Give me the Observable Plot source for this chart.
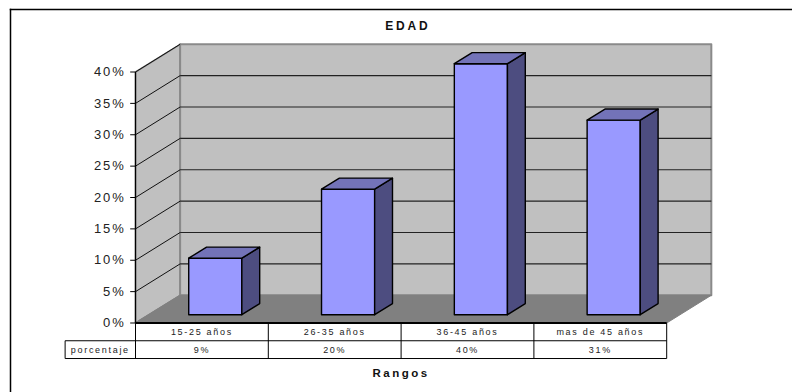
<!DOCTYPE html>
<html>
<head>
<meta charset="utf-8">
<script src="https://cdn.jsdelivr.net/npm/d3@7"></script>
<script src="https://cdn.jsdelivr.net/npm/@observablehq/plot@0.6"></script>
<style>
  html, body { margin: 0; padding: 0; background: #fff; }
  svg { display: block; }
</style>
</head>
<body>
<script>
const title = "EDAD";
const xTitle = "Rangos";
const rowLabel = "porcentaje";
const categories = ["15-25 años", "26-35 años", "36-45 años", "mas de 45 años"];
const values = [9, 20, 40, 31];
const valueLabels = ["9%", "20%", "40%", "31%"];
const yTicks = [0, 5, 10, 15, 20, 25, 30, 35, 40];

// Oblique depth of the box: a full unit of depth shifts right and up, in data units.
const depthX = 0.336;
const depthY = 4.42;
const barWidth = 0.4;
const barZ0 = 0.3;
const barZ1 = 0.7;
const nCat = categories.length;
const yMax = 40;

const project = (c, v, z) => ({x: c + z * depthX, y: v + z * depthY});
const poly = (pts) => pts.map(([c, v, z]) => project(c, v, z));

const wallBack = poly([[0, 0, 1], [nCat, 0, 1], [nCat, yMax, 1], [0, yMax, 1]]);
const wallSide = poly([[0, 0, 0], [0, 0, 1], [0, yMax, 1], [0, yMax, 0]]);
const floor = poly([[0, 0, 0], [nCat, 0, 0], [nCat, 0, 1], [0, 0, 1]]);

const face = (pts, fill, stroke, strokeWidth) =>
  Plot.line(pts, {x: "x", y: "y", fill, stroke, strokeWidth, curve: "linear-closed"});

const barMarks = values.flatMap((v, i) => {
  const a = i + 0.5 - barWidth / 2, b = i + 0.5 + barWidth / 2;
  return [
    face(poly([[a, 0, barZ0], [b, 0, barZ0], [b, v, barZ0], [a, v, barZ0]]), "#9999ff", "#000", 1.4),
    face(poly([[b, 0, barZ0], [b, 0, barZ1], [b, v, barZ1], [b, v, barZ0]]), "#4d4d80", "#000", 1.4),
    face(poly([[a, v, barZ0], [b, v, barZ0], [b, v, barZ1], [a, v, barZ1]]), "#7373b8", "#000", 1.4)
  ];
});

// Rows of the data table below the floor, expressed in value units under zero.
const rowH = 2.83;
const labelLeft = -0.53;
const tableText = {fontFamily: "Liberation Sans, Arial, sans-serif", fontSize: 9, fill: "#222"};

const chart = Plot.plot({
  width: 792,
  height: 392,
  marginLeft: 10,
  marginTop: 9,
  marginRight: 0,
  marginBottom: 0,
  x: {domain: [0, nCat], range: [135, 666.2], axis: null},
  y: {domain: [0, yMax], range: [322.5, 71.5], axis: null},
  style: {background: "#fff"},
  marks: [
    // the chart border only shows along the top and left edges
    Plot.frame({anchor: "top", stroke: "#000", strokeWidth: 1.5}),
    Plot.frame({anchor: "left", stroke: "#000", strokeWidth: 1.5}),

    face(wallSide, "#c0c0c0", "#808080", 1.5),
    face(wallBack, "#c0c0c0", "#8a8a8a", 2),
    face(floor, "#808080", "#808080", 1),

    // gridlines run along the side wall and across the back wall
    Plot.link(yTicks.slice(1), {
      x1: () => 0, y1: (d) => d,
      x2: () => depthX, y2: (d) => d + depthY,
      stroke: "#111", strokeWidth: 1
    }),
    Plot.link(yTicks.slice(1, -1), {
      x1: () => depthX, y1: (d) => d + depthY,
      x2: () => nCat + depthX, y2: (d) => d + depthY,
      stroke: "#222", strokeWidth: 1.1
    }),

    ...barMarks,

    // value axis with outward ticks
    Plot.link([0], {x1: () => 0, x2: () => 0, y1: () => 0, y2: () => yMax, stroke: "#000", strokeWidth: 1.3}),
    Plot.link(yTicks, {x1: () => -0.04, x2: () => 0, y1: (d) => d, y2: (d) => d, stroke: "#000", strokeWidth: 1}),
    Plot.text(yTicks, {
      x: () => 0, y: (d) => d, dx: -10, text: (d) => `${d}%`, textAnchor: "end",
      fontFamily: "Liberation Sans, Arial, sans-serif", fontSize: 13, fill: "#222"
    }),

    // data table
    Plot.link([0], {x1: () => 0, x2: () => nCat, y1: () => 0, y2: () => 0, stroke: "#000", strokeWidth: 2}),
    Plot.link([1, 2], {x1: () => labelLeft, x2: () => nCat, y1: (d) => -d * rowH, y2: (d) => -d * rowH, stroke: "#000", strokeWidth: 1}),
    Plot.link(d3.range(nCat + 1), {x1: (d) => d, x2: (d) => d, y1: () => 0, y2: () => -2 * rowH, stroke: "#000", strokeWidth: 1}),
    Plot.link([labelLeft], {x1: (d) => d, x2: (d) => d, y1: () => -rowH, y2: () => -2 * rowH, stroke: "#000", strokeWidth: 1}),
    Plot.text(categories, {x: (d, i) => i + 0.5, y: () => -1.42, text: (d) => d, ...tableText}),
    Plot.text(valueLabels, {x: (d, i) => i + 0.5, y: () => -1.42 - rowH, text: (d) => d, ...tableText}),
    Plot.text([rowLabel], {x: () => labelLeft / 2, y: () => -1.42 - rowH, text: (d) => d, ...tableText}),

    // titles
    Plot.text([title], {
      x: () => 2.05, y: () => 47.3, text: (d) => d,
      fontFamily: "Liberation Sans, Arial, sans-serif", fontSize: 12, fontWeight: "bold", fill: "#111"
    }),
    Plot.text([xTitle], {
      x: () => 2.0, y: () => -8.05, text: (d) => d,
      fontFamily: "Liberation Sans, Arial, sans-serif", fontSize: 11.5, fontWeight: "bold", fill: "#111"
    })
  ]
});

// The wide tracking of the labels depends on their size.
const tracking = {"13": "1.8px", "9": "1.7px", "12": "2.8px", "11.5": "2.5px"};
chart.querySelectorAll("g[font-size]").forEach((g) => {
  const spacing = tracking[g.getAttribute("font-size")];
  if (spacing) g.style.letterSpacing = spacing;
});

document.body.append(chart);
</script>
</body>
</html>
